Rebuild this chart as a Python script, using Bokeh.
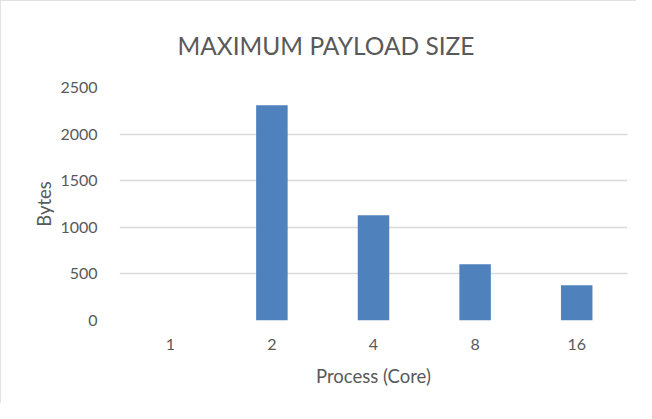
from bokeh.plotting import figure
from bokeh.models import FactorRange, Range1d, FixedTicker, ColumnDataSource
from bokeh.embed import file_html
from bokeh.resources import INLINE

categories = ["1", "2", "4", "8", "16"]
payload_bytes = [0, 2310, 1128, 603, 377]
y_ticks = [0, 500, 1000, 1500, 2000, 2500]

TEXT = "#595959"
GRID = "#D9D9D9"
BAR = "#4F81BD"
FONT = "Lato"

src = ColumnDataSource(dict(cat=categories, val=payload_bytes))

p = figure(
    width=636, height=403,
    x_range=FactorRange(*categories, range_padding=0),
    y_range=Range1d(0, 2500),
    output_backend="svg", toolbar_location=None,
    min_border_left=119, min_border_right=9, min_border_top=87, min_border_bottom=83,
)
p.vbar(x="cat", top="val", width=0.31, source=src, color=BAR, line_color=None)

p.title.text = "MAXIMUM PAYLOAD SIZE"
p.title.align = "left"
p.title.offset = 58
p.title.standoff = 55
p.title.text_font = FONT
p.title.text_font_style = "normal"
p.title.text_font_size = "24.5px"
p.title.text_color = TEXT

p.outline_line_color = None
p.background_fill_color = "white"
p.border_fill_color = "white"
p.styles = {"outline": "1px solid #D9D9D9", "outline-offset": "-1px"}

p.xgrid.grid_line_color = None
p.ygrid.grid_line_color = GRID
p.ygrid.grid_line_width = 1.5
p.yaxis.ticker = FixedTicker(ticks=y_ticks)

for ax in (p.xaxis[0], p.yaxis[0]):
    ax.axis_line_color = None
    ax.major_tick_line_color = None
    ax.minor_tick_line_color = None
    ax.major_label_text_font = FONT
    ax.major_label_text_font_size = "16px"
    ax.major_label_text_color = TEXT
    ax.axis_label_text_font = FONT
    ax.axis_label_text_font_size = "18.5px"
    ax.axis_label_text_color = TEXT
    ax.axis_label_text_font_style = "normal"

p.yaxis.axis_label = "Bytes"
p.yaxis.major_label_standoff = 16
p.yaxis.axis_label_standoff = 2
p.xaxis.axis_label = "Process (Core)"
p.xaxis.major_label_standoff = 12
p.xaxis.axis_label_standoff = 12

open("out.html", "w").write(file_html(p, INLINE))
